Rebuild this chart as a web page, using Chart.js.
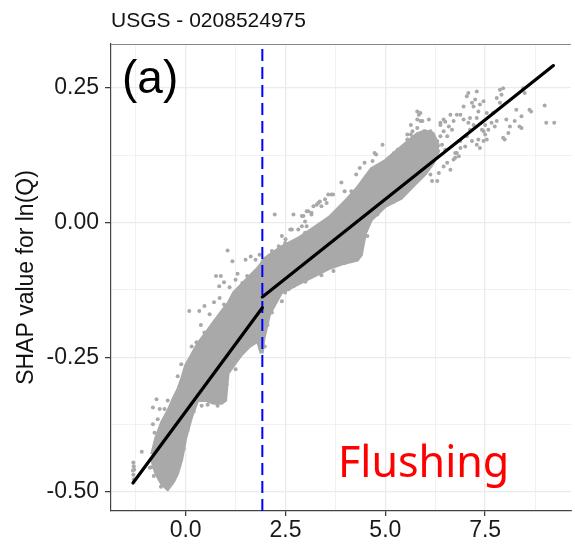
<!DOCTYPE html>
<html>
<head>
<meta charset="utf-8">
<script src="https://cdn.jsdelivr.net/npm/chart.js@4.4.0/dist/chart.umd.min.js"></script>
<style>
  html, body { margin: 0; padding: 0; background: #fff; overflow: hidden; }
  #wrap { width: 575px; height: 544px; }
</style>
</head>
<body>
<div id="wrap"><canvas id="shap" width="575" height="544"></canvas></div>
<script>
// ---- data ----
const titleText = 'USGS - 0208524975';
const yTitle = 'SHAP value for ln(Q)';

const xMajorTicks = [0, 2.5, 5, 7.5];
const xMinorTicks = [-1.25, 1.25, 3.75, 6.25, 8.75];
const yMajorTicks = [-0.5, -0.25, 0, 0.25];
const yMinorTicks = [-0.375, -0.125, 0.125];

// dense core of the point cloud (upper / lower edge)
const bandX     = [-0.85, -0.75, -0.6, -0.45, -0.3, -0.2, -0.1, 0.0, 0.15, 0.3, 0.5, 0.7, 0.9, 1.0, 1.06, 1.2, 1.4, 1.6, 1.8, 1.88, 1.92, 1.96, 2.1, 2.4, 2.8, 3.2, 3.6, 4.0, 4.3, 4.4, 4.5, 4.65, 5.0, 5.4, 5.8, 6.0, 6.2, 6.35];
const bandUpper = [-0.43, -0.40, -0.37, -0.35, -0.325, -0.31, -0.29, -0.265, -0.245, -0.225, -0.205, -0.185, -0.165, -0.155, -0.15, -0.13, -0.115, -0.10, -0.085, -0.078, -0.072, -0.068, -0.06, -0.045, -0.03, -0.01, 0.01, 0.04, 0.065, 0.075, 0.085, 0.10, 0.115, 0.14, 0.165, 0.17, 0.165, 0.14];
const bandLower = [-0.44, -0.465, -0.485, -0.495, -0.48, -0.465, -0.44, -0.40, -0.36, -0.33, -0.33, -0.335, -0.335, -0.33, -0.28, -0.265, -0.245, -0.23, -0.22, -0.24, -0.24, -0.215, -0.17, -0.13, -0.115, -0.10, -0.085, -0.075, -0.07, -0.06, -0.02, 0.005, 0.03, 0.045, 0.075, 0.09, 0.11, 0.135];

// scattered points around the core
const ptX = [
  -1.31, -1.30, -1.32, -1.31, -1.30, -1.29, -1.10, -0.86, -0.82, -0.82, -0.73, -0.65, -0.53, -0.40, -0.78, -0.70, -0.45, -0.11, -0.20,
  -0.90, -0.80, -0.62, -0.38, -0.25, -0.05, 0.05, 0.20, 0.40, 0.55, 0.80, 1.02,
  0.09, 0.34, 0.47, 0.27, 0.47, 0.27, 0.15, 0.38, 0.71, 0.96, 1.25, 0.60, 0.85,
  1.05, 1.17, 0.76, 0.88, 0.96, 0.84, 1.50, 1.63, 1.75, 1.25, 1.42, 1.54, 1.10, 1.30, 1.85,
  2.41, 2.16, 2.20, 2.58, 2.49, 1.98, 2.05, 2.70, 3.00, 3.40, 3.70,
  2.23, 2.70, 2.91, 3.03, 3.15, 2.66, 2.82, 2.99, 2.33, 2.50, 2.41, 2.49, 2.16, 2.33, 2.62, 2.91, 3.03, 2.95, 2.99, 3.07,
  3.28, 3.36, 3.49, 3.57, 3.69, 3.98, 4.15, 4.27, 3.90, 3.65, 3.53, 3.40, 3.32, 3.20, 3.15,
  4.36, 4.48, 4.68, 4.73, 4.77, 4.93, 5.22, 5.01, 5.06, 5.14, 5.31, 5.39, 5.55, 5.64, 5.68,
  3.98, 4.06, 4.55, 4.80, 5.20, 5.60,
  5.64, 5.80, 5.93, 5.80, 5.88, 6.09, 5.88, 5.68, 5.97, 6.13, 5.55, 5.84, 5.80,
  6.17, 6.30, 6.13, 6.34, 6.46, 6.63, 6.55, 6.71, 6.84, 6.75, 6.38, 6.50,
  6.63, 6.71, 6.59, 6.67, 6.55, 6.46, 6.38, 6.46, 6.38, 6.30, 6.22, 6.42, 6.50,
  6.96, 6.88, 6.79, 6.96, 7.12, 7.29, 7.08, 7.21,
  7.29, 7.37, 7.46, 7.54, 7.33, 7.50, 7.42,
  7.12, 7.04, 7.17, 7.00, 6.88, 6.79, 6.75, 6.88,
  7.29, 7.08, 7.04, 7.17, 7.25, 7.46, 7.37, 7.21, 7.33,
  7.54, 7.50, 7.58, 7.46, 7.70, 7.79, 7.66, 7.74, 7.79, 7.87, 7.87, 7.91,
  7.95, 8.45, 8.49, 8.99, 9.03, 9.23, 8.61, 8.65, 8.28, 8.24, 8.41, 8.36, 8.41, 8.03, 8.12, 8.08, 7.99, 7.95
];
const ptY = [
  -0.445, -0.452, -0.460, -0.468, -0.476, -0.458, -0.425, -0.454, -0.374, -0.343, -0.328, -0.346, -0.346, -0.346, -0.390, -0.365, -0.330, -0.263, -0.285,
  -0.455, -0.470, -0.490, -0.485, -0.460, -0.420, -0.385, -0.350, -0.340, -0.338, -0.340, -0.300,
  -0.164, -0.164, -0.155, -0.222, -0.204, -0.235, -0.230, -0.190, -0.148, -0.152, -0.272, -0.170, -0.140,
  -0.052, -0.072, -0.099, -0.099, -0.111, -0.118, -0.069, -0.063, -0.069, -0.106, -0.112, -0.099, -0.120, -0.095, -0.060,
  -0.146, -0.167, -0.155, -0.124, -0.130, -0.230, -0.190, -0.118, -0.110, -0.098, -0.090,
  0.015, 0.015, 0.012, 0.021, 0.018, -0.013, -0.013, -0.019, -0.044, -0.031, -0.025, -0.038, -0.053, -0.050, -0.013, -0.007, -0.007, 0.012, 0.002, 0.021,
  0.033, 0.039, 0.043, 0.052, 0.052, 0.058, 0.058, 0.089, 0.074, 0.052, 0.036, 0.030, 0.036, 0.030, 0.015,
  0.101, 0.111, 0.114, 0.129, 0.126, 0.144, 0.129, 0.104, 0.095, 0.111, 0.135, 0.126, 0.154, 0.163, 0.157,
  -0.075, -0.056, -0.025, 0.015, 0.038, 0.062,
  0.181, 0.175, 0.188, 0.206, 0.203, 0.191, 0.188, 0.169, 0.169, 0.169, 0.163, 0.200, 0.191,
  0.077, 0.077, 0.089, 0.092, 0.104, 0.098, 0.111, 0.117, 0.123, 0.129, 0.185, 0.187,
  0.200, 0.188, 0.178, 0.172, 0.160, 0.169, 0.181, 0.191, 0.160, 0.151, 0.141, 0.144, 0.135,
  0.215, 0.200, 0.200, 0.191, 0.194, 0.194, 0.185, 0.181,
  0.144, 0.138, 0.151, 0.154, 0.154, 0.163, 0.172,
  0.172, 0.160, 0.151, 0.141, 0.138, 0.129, 0.120, 0.151,
  0.243, 0.240, 0.234, 0.222, 0.228, 0.225, 0.219, 0.215, 0.206,
  0.203, 0.181, 0.172, 0.169, 0.203, 0.188, 0.185, 0.178, 0.231, 0.222, 0.246, 0.237,
  0.249, 0.249, 0.240, 0.217, 0.185, 0.185, 0.209, 0.206, 0.209, 0.188, 0.197, 0.178, 0.175, 0.191, 0.178, 0.166, 0.154, 0.157
];

// piecewise fit, broken at the threshold
const thresholdX = 1.92;
const fitLowX = [-1.32, 1.92];
const fitLowY = [-0.483, -0.158];
const fitHighX = [1.92, 9.21];
const fitHighY = [-0.138, 0.291];

const xRange = [-1.87, 9.65];
const yRange = [-0.535, 0.331];

// ---- helpers ----
const zip = (xs, ys) => xs.map((x, i) => ({ x: x, y: ys[i] }));
const near = (list, v) => list.some(t => Math.abs(t - v) < 1e-9);
const GREY = '#a9a9a9';
const SANS = '"Liberation Sans", Arial, sans-serif';

const overlay = {
  id: 'overlay',
  afterDraw(chart) {
    const ctx = chart.ctx;
    const a = chart.chartArea;
    ctx.save();
    // panel top edge
    ctx.strokeStyle = '#888';
    ctx.lineWidth = 1.2;
    ctx.beginPath();
    ctx.moveTo(a.left, a.top + 0.5);
    ctx.lineTo(a.right, a.top + 0.5);
    ctx.stroke();

    ctx.fillStyle = '#111';
    ctx.textBaseline = 'alphabetic';
    ctx.textAlign = 'left';
    ctx.font = '21px ' + SANS;
    ctx.fillText(titleText, a.left, 27);

    ctx.fillStyle = '#000';
    ctx.font = '46px ' + SANS;
    ctx.fillText('(a)', a.left + 11, 93);

    ctx.fillStyle = '#ff0000';
    ctx.font = '43px "Noto Sans", sans-serif';
    ctx.fillText('Flushing', 338, 477);
    ctx.restore();
  }
};

new Chart(document.getElementById('shap'), {
  type: 'scatter',
  data: {
    datasets: [
      {
        type: 'line', data: zip(fitHighX, fitHighY),
        borderColor: '#000', borderWidth: 3.2, pointRadius: 0, fill: false, borderCapStyle: 'round'
      },
      {
        type: 'line', data: zip(fitLowX, fitLowY),
        borderColor: '#000', borderWidth: 3.2, pointRadius: 0, fill: false, borderCapStyle: 'round'
      },
      {
        type: 'line', data: zip([thresholdX, thresholdX], yRange),
        borderColor: '#0000ff', borderWidth: 2, borderDash: [12, 6], pointRadius: 0, fill: false
      },
      {
        data: zip(ptX, ptY),
        backgroundColor: GREY, borderWidth: 0, pointRadius: 2
      },
      {
        type: 'line', data: zip(bandX, bandUpper),
        borderColor: GREY, borderWidth: 3, backgroundColor: GREY, pointRadius: 0,
        fill: '+1', tension: 0
      },
      {
        type: 'line', data: zip(bandX, bandLower),
        borderColor: GREY, borderWidth: 3, pointRadius: 0, fill: false, tension: 0
      }
    ]
  },
  options: {
    responsive: false,
    animation: false,
    layout: { padding: { top: 44, right: 0, bottom: 0, left: 0 } },
    plugins: { legend: { display: false }, tooltip: { enabled: false }, title: { display: false } },
    scales: {
      x: {
        type: 'linear', min: xRange[0], max: xRange[1],
        afterBuildTicks: s => { s.ticks = xMajorTicks.concat(xMinorTicks).sort((a, b) => a - b).map(v => ({ value: v })); },
        afterFit: s => { s.height = 33; },
        border: { display: true, color: '#444', width: 1.2 },
        grid: {
          color: '#ebebeb',
          lineWidth: c => near(xMajorTicks, c.tick.value) ? 1.3 : 0.7,
          tickLength: 5,
          tickColor: c => near(xMajorTicks, c.tick.value) ? '#333' : 'rgba(0,0,0,0)',
          tickWidth: 1.2
        },
        ticks: {
          autoSkip: false, maxRotation: 0, padding: 1,
          color: '#1a1a1a',
          font: { family: SANS, size: 23 },
          callback: v => near(xMajorTicks, v) ? v.toFixed(1) : ''
        }
      },
      y: {
        type: 'linear', min: yRange[0], max: yRange[1],
        afterBuildTicks: s => { s.ticks = yMajorTicks.concat(yMinorTicks).sort((a, b) => a - b).map(v => ({ value: v })); },
        afterFit: s => { s.width = 111; },
        border: { display: true, color: '#444', width: 1.2 },
        grid: {
          color: '#ebebeb',
          lineWidth: c => near(yMajorTicks, c.tick.value) ? 1.3 : 0.7,
          tickLength: 6,
          tickColor: c => near(yMajorTicks, c.tick.value) ? '#333' : 'rgba(0,0,0,0)',
          tickWidth: 1.2
        },
        ticks: {
          autoSkip: false, padding: 6,
          color: '#1a1a1a',
          font: { family: SANS, size: 23 },
          callback: v => near(yMajorTicks, v) ? v.toFixed(2) : ''
        },
        title: {
          display: true, text: yTitle, color: '#111',
          font: { family: SANS, size: 23 },
          padding: { top: 13, bottom: 0 }
        }
      }
    }
  },
  plugins: [overlay]
});
</script>
</body>
</html>
